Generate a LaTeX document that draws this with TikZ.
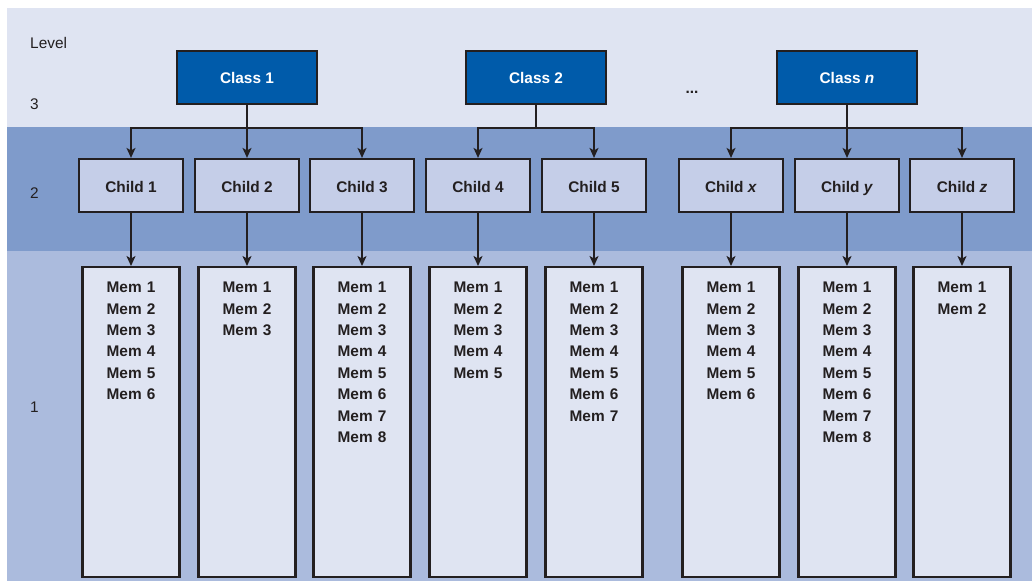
\documentclass[tikz,border=0pt]{standalone}
\usepackage{fontspec}
\setmainfont{Liberation Sans}
\usetikzlibrary{arrows.meta}

\definecolor{bandtop}{HTML}{DFE4F2}
\definecolor{bandmid}{HTML}{7F9BCB}
\definecolor{bandlow}{HTML}{ABBBDD}
\definecolor{classblue}{HTML}{005BAA}
\definecolor{childfill}{HTML}{C5CEE8}
\definecolor{memfill}{HTML}{DFE4F2}
\definecolor{ink}{HTML}{231F20}

\newcommand{\figfont}{\fontsize{15.4}{21.4}\selectfont}
\newcommand{\memlist}[1]{\foreach \k in {1,...,#1}{Mem \k\par}}

\begin{document}
\begin{tikzpicture}[x=1pt, y=-1pt, >={Stealth[length=10pt,width=9pt,inset=2.5pt]},
    every node/.style={font=\figfont, text=ink},
    levellabel/.style={anchor=west, inner sep=0pt},
    classbox/.style={draw=ink, line width=2.2pt, fill=classblue, text=white,
        font=\bfseries\figfont, minimum width=140pt, minimum height=53pt,
        text height=11.6pt, text depth=0pt},
    childbox/.style={draw=ink, line width=2.2pt, fill=childfill,
        font=\bfseries\figfont, minimum width=104pt, minimum height=53pt,
        text height=14pt, text depth=0pt},
    membox/.style={draw=ink, line width=2.2pt, fill=memfill, font=\bfseries\figfont,
        anchor=north, text width=97pt, align=center, inner xsep=0pt, inner ysep=0pt,
        text height=25.5pt, text depth=284.5pt},
    link/.style={draw=ink, line width=1.5pt}]
    \useasboundingbox (0,0) rectangle (1032,581);
    % level bands
    \fill[bandtop] (7,8) rectangle (1032,127);
    \fill[bandmid] (7,127) rectangle (1032,251);
    \fill[bandlow] (7,251) rectangle (1032,581);
    \node[levellabel] (lvl) at (30,43) {Level};
    \node[levellabel] (lvl3) at (30,104) {3};
    \node[levellabel] (lvl2) at (30,193) {2};
    \node[levellabel] (lvl1) at (30,407) {1};
    % classes
    \node[classbox] (c1) at (247,77.5) {Class 1};
    \node[classbox] (c2) at (536,77.5) {Class 2};
    \node[classbox] (cn) at (847,77.5) {Class \textit{n}};
    \node[font=\bfseries\figfont] (dots) at (692,92) {...};
    % children and their members
    \foreach \id/\xpos/\lab/\cnt in {1/131/1/6, 2/247/2/3, 3/362/3/8, 4/478/4/5,
        5/594/5/7, 6/731/\textit{x}/6, 7/847/\textit{y}/8, 8/962/\textit{z}/2} {
        \node[childbox] (ch\id) at (\xpos,185.5) {Child \lab};
        \node[membox] (m\id) at (\xpos,266) {\memlist{\cnt}};
        \draw[link, ->] (ch\id) -- (m\id);
    }
    % class to child links
    \coordinate (bus1) at (247,128);
    \coordinate (bus2) at (536,128);
    \coordinate (busn) at (847,128);
    \draw[link, ->] (c1) -- (ch2);
    \draw[link, ->] (bus1) -| (ch1);
    \draw[link, ->] (bus1) -| (ch3);
    \draw[link] (c2) -- (bus2);
    \draw[link, ->] (bus2) -| (ch4);
    \draw[link, ->] (bus2) -| (ch5);
    \draw[link, ->] (cn) -- (ch7);
    \draw[link, ->] (busn) -| (ch6);
    \draw[link, ->] (busn) -| (ch8);
\end{tikzpicture}
\end{document}
